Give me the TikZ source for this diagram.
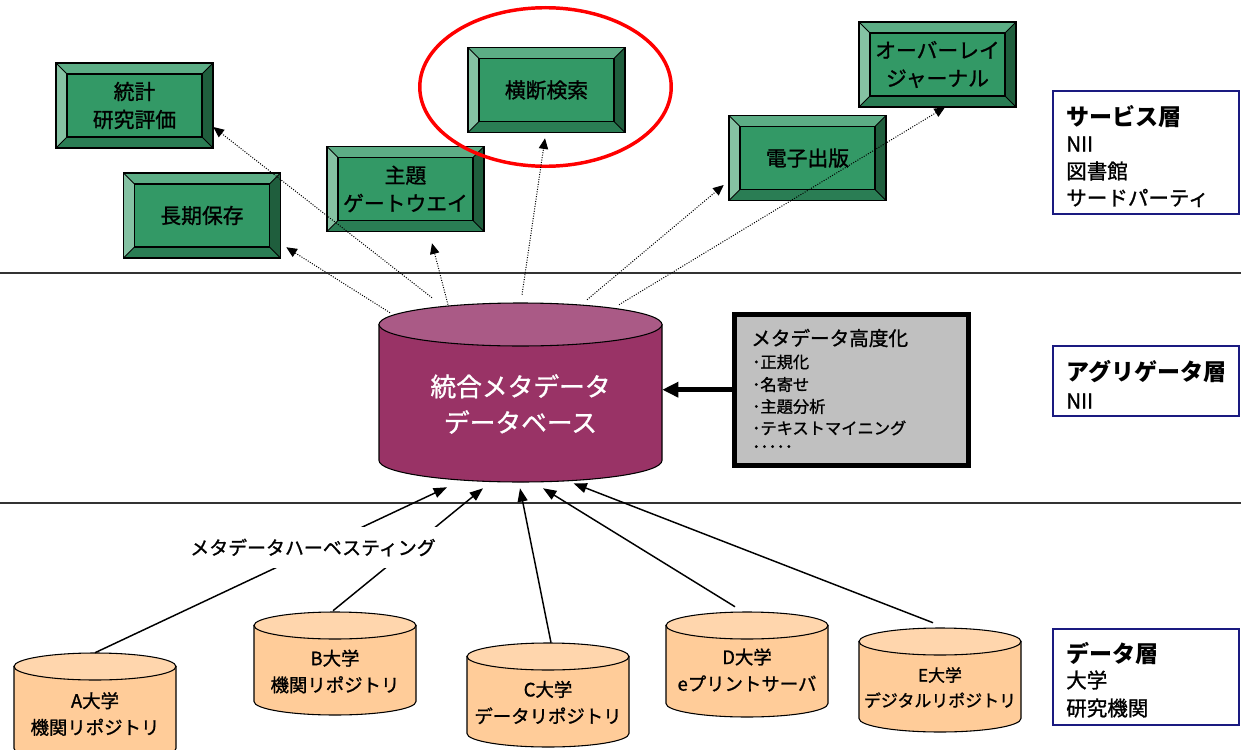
\documentclass[tikz,border=0pt]{standalone}
\usepackage{fontspec}
\setmainfont{Noto Sans CJK JP}[UprightFeatures={FakeBold=1.2}]
\usetikzlibrary{arrows.meta,shapes.geometric,calc}
\definecolor{gmid}{HTML}{339966}
\definecolor{bvtop}{HTML}{5CAD85}
\definecolor{bvleft}{HTML}{85C2A3}
\definecolor{bvright}{HTML}{1F5E3D}
\definecolor{bvbot}{HTML}{2A7D54}
\definecolor{dbbody}{HTML}{993366}
\definecolor{dbtop}{HTML}{AA5A86}
\definecolor{orbody}{HTML}{FFCC99}
\definecolor{ortop}{HTML}{FFD6AD}
\definecolor{metagray}{HTML}{C0C0C0}
\definecolor{navyb}{HTML}{1A1A80}
\definecolor{linegray}{HTML}{333333}

\newcommand\bevelbox[4]{%
  \begin{scope}[shift={(#2,#3)}]
    \fill[bvtop] (-78.5,-42.5) -- (78.5,-42.5) -- (67.5,-31.5) -- (-67.5,-31.5) -- cycle;
    \fill[bvbot] (-78.5,42.5) -- (78.5,42.5) -- (67.5,31.5) -- (-67.5,31.5) -- cycle;
    \fill[bvleft] (-78.5,-42.5) -- (-67.5,-31.5) -- (-67.5,31.5) -- (-78.5,42.5) -- cycle;
    \fill[bvright] (78.5,-42.5) -- (67.5,-31.5) -- (67.5,31.5) -- (78.5,42.5) -- cycle;
    \fill[gmid] (-67.5,-31.5) rectangle (67.5,31.5);
    \draw[line width=0.6pt] (-78.5,-42.5) -- (-67.5,-31.5) (78.5,-42.5) -- (67.5,-31.5)
      (-78.5,42.5) -- (-67.5,31.5) (78.5,42.5) -- (67.5,31.5);
    \draw[line width=0.9pt] (-67.5,-31.5) rectangle (67.5,31.5);
    \draw[line width=1.1pt] (-78.5,-42.5) rectangle (78.5,42.5);
  \end{scope}
  \node[boxtext] (#1) at (#2,#3) {#4};}

% #1 name, #2 cx, #3 top, #4 bottom, #5 rx, #6 ry, #7 body, #8 top colour
\newcommand\drum[8]{%
  \filldraw[fill=#7, draw=black, line width=0.8pt] (#2-#5,#3+#6) -- (#2-#5,#4-#6)
     arc[start angle=180, end angle=0, x radius=#5, y radius=#6] -- (#2+#5,#3+#6) -- cycle;
  \filldraw[fill=#8, draw=black, line width=0.8pt] (#2,#3+#6) ellipse [x radius=#5, y radius=#6];
  \node[inner sep=0pt, minimum width={2*#5*0.75pt}, minimum height={(#4-#3)*0.75pt}] (#1) at (#2,{(#3+#4)/2}) {};}

\tikzset{
  boxtext/.style={font=\fontsize{15.6}{21}\selectfont, align=center, inner sep=0pt,
    minimum width=117.75pt, minimum height=63.75pt},
  dotarrow/.style={line width=0.75pt, dash pattern=on 0.75pt off 1.1pt,
    -{Triangle[length=8pt,width=7pt]}},
  harvest/.style={line width=1.1pt, -{Triangle[length=10pt,width=7.5pt]}},
  layerline/.style={line width=1.5pt, draw=linegray},
  layerbox/.style={draw=navyb, line width=1.2pt, fill=white, minimum width=139.9pt, inner sep=0pt},
  layerhead/.style={anchor=west, inner sep=0pt, font=\bfseries\fontsize{17.25}{20}\selectfont},
  layeritem/.style={anchor=west, inner sep=0pt, font=\fontsize{15.4}{18}\selectfont},
  drumtext/.style={align=center, inner sep=0pt, font=\fontsize{13.8}{20}\selectfont},
  dbtext/.style={align=center, inner sep=0pt, text=white, font=\fontsize{19.3}{27}\selectfont},
  metabox/.style={draw=black, line width=3.75pt, fill=metagray, minimum width=175.7pt,
    minimum height=113.25pt, inner sep=0pt},
  metahead/.style={anchor=west, inner sep=0pt, font=\fontsize{14.7}{17}\selectfont},
  metaitem/.style={anchor=west, inner sep=0pt, font=\fontsize{12.2}{14}\selectfont},
  harvlabel/.style={fill=white, inner xsep=2pt, inner ysep=0pt, minimum height=30.75pt,
    font=\fontsize{14.2}{17}\selectfont},
  thickarrow/.style={line width=3.75pt, -{Triangle[length=12pt,width=11pt]}},
  highlight/.style={draw=red, line width=2.6pt, ellipse, inner sep=0pt,
    minimum width=188.6pt, minimum height=118.9pt}
}

\begin{document}
\begin{tikzpicture}[x=0.75pt,y=-0.75pt]
\useasboundingbox (0,0) rectangle (1241,749);
\clip (0,0) rectangle (1241,749);

% layer separators
\draw[layerline] (0,272.5) -- (1241,272.5);
\draw[layerline] (0,502.5) -- (1241,502.5);

% service layer boxes
\bevelbox{toukei}{134.5}{105.5}{統計\\研究評価}
\bevelbox{oudan}{546.5}{90}{横断検索}
\bevelbox{shudai}{405.5}{189}{主題\\ゲートウエイ}
\bevelbox{chouki}{202}{215.5}{長期保存}
\bevelbox{denshi}{807.5}{158}{電子出版}
\bevelbox{overlay}{937.5}{64.5}{オーバーレイ\\ジャーナル}

\node[highlight] (hl) at (545.5,87) {};

% aggregator database
\drum{db}{520.5}{303}{482}{141.5}{21.5}{dbbody}{dbtop}
\node[dbtext] (dbt) at (520.5,404) {統合メタデータ\\データベース};

% metadata enhancement box
\node[metabox] (meta) at (851.3,389.7) {};
\node[metahead] (mh) at (751,338) {メタデータ高度化};
\node[metaitem] (m1) at (752,362) {･正規化};
\node[metaitem] (m2) at (752,384.5) {･名寄せ};
\node[metaitem] (m3) at (752,406.5) {･主題分析};
\node[metaitem] (m4) at (752,428) {･テキストマイニング};
\node[metaitem] (m5) at (752,449) {･････};
\draw[thickarrow] (meta.west) -- (meta.west -| db.east);

% data layer repositories
\drum{cylA}{95}{653}{762}{81}{13.5}{orbody}{ortop}
\drum{cylB}{335}{612}{715}{81}{13.5}{orbody}{ortop}
\drum{cylC}{548}{643}{747}{81}{13.5}{orbody}{ortop}
\drum{cylD}{747}{612}{717}{81}{13.5}{orbody}{ortop}
\drum{cylE}{940}{628}{732}{81}{13.5}{orbody}{ortop}
\node[drumtext] (tA) at (95,714) {A大学\\機関リポジトリ};
\node[drumtext] (tB) at (335,671.5) {B大学\\機関リポジトリ};
\node[drumtext] (tC) at (548,702.5) {C大学\\データリポジトリ};
\node[drumtext] (tD) at (747,670) {D大学\\eプリントサーバ};
\node[drumtext, font=\fontsize{12.7}{19}\selectfont] (tE) at (940,687.5) {E大学\\デジタルリポジトリ};

% harvesting arrows
\draw[harvest] (cylA.north) -- ($(db.south)+(-73.5,5)$);
\draw[harvest] ($(cylB.north)+(-2,-1)$) -- ($(db.south)+(-37.5,6)$);
\draw[harvest] ($(cylC.north)+(3,0)$) -- ($(db.south)+(-0.5,6)$);
\draw[harvest] ($(cylD.north)+(-12,-5)$) -- ($(db.south)+(22.5,6)$);
\draw[harvest] ($(cylE.north)+(-7,-5)$) -- ($(db.south)+(53,1)$);
\node[harvlabel] (hv) at (313,547.5) {メタデータハーベスティング};

% service arrows (dotted)
\draw[dotarrow] ($(db.north)+(-88.5,-5)$) -- ($(toukei.east)+(0,21.5)$);
\draw[dotarrow] ($(db.north)+(-130.5,10)$) -- ($(chouki.south east)+(5.5,-11)$);
\draw[dotarrow] ($(db.north)+(-72.5,2)$) -- ($(shudai.south)+(26.5,11.5)$);
\draw[dotarrow] ($(db.north)+(1.5,-8)$) -- ($(oudan.south)+(-1.5,5.5)$);
\draw[dotarrow] ($(db.north)+(66.5,-3)$) -- ($(denshi.west)+(-5,27)$);
\draw[dotarrow] ($(db.north)+(98.5,2)$) -- ($(overlay.south)+(7.5,0)$);

% layer legend boxes
\node[layerbox, minimum height=92.6pt] (svc) at (1146,152.5) {};
\node[layerhead] (svc1) at (1066,117) {サービス層};
\node[layeritem] (svc2) at (1066,144) {NII};
\node[layeritem] (svc3) at (1066,171) {図書館};
\node[layeritem] (svc4) at (1066,198) {サードパーティ};

\node[layerbox, minimum height=52.9pt] (agg) at (1146,381) {};
\node[layerhead] (agg1) at (1066,372) {アグリゲータ層};
\node[layeritem] (agg2) at (1066,401) {NII};

\node[layerbox, minimum height=72.4pt] (dat) at (1146,677) {};
\node[layerhead] (dat1) at (1066,653) {データ層};
\node[layeritem] (dat2) at (1066,680) {大学};
\node[layeritem] (dat3) at (1066,708) {研究機関};
\end{tikzpicture}
\end{document}
